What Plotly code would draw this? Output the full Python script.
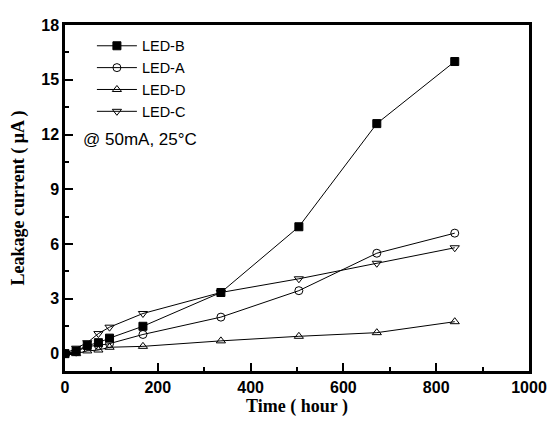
import plotly.graph_objects as go

hours = [0, 24, 48, 72, 96, 168, 336, 504, 672, 840]
led_b = [0.0, 0.15, 0.45, 0.6, 0.85, 1.5, 3.35, 6.95, 12.6, 16.0]
led_a = [0.0, 0.1, 0.4, 0.45, 0.55, 1.05, 2.0, 3.45, 5.5, 6.6]
led_d = [0.0, 0.0, 0.15, 0.2, 0.35, 0.4, 0.7, 0.95, 1.15, 1.75]
led_c = [0.0, 0.3, 0.6, 1.1, 1.45, 2.2, 3.35, 4.1, 4.95, 5.8]

series = [
    ("LED-B", led_b, "square", "black"),
    ("LED-A", led_a, "circle-open", "black"),
    ("LED-D", led_d, "triangle-up-open", "black"),
    ("LED-C", led_c, "triangle-down-open", "black"),
]

fig = go.Figure()
for name, vals, sym, col in series:
    fig.add_trace(go.Scatter(
        x=hours, y=vals, name=name, mode="lines+markers",
        line=dict(color="black", width=1),
        marker=dict(symbol=sym, size=8, color=col, line=dict(color="black", width=1)),
    ))

fig.add_annotation(x=0.035, y=0.67, xref="paper", yref="paper", xanchor="left", yanchor="middle",
                   text="@ 50mA, 25°C", showarrow=False,
                   font=dict(family="Liberation Sans, Arial", size=17, color="black"))

fig.update_layout(
    width=559, height=421,
    margin=dict(l=65, r=25, t=25, b=49),
    plot_bgcolor="white", paper_bgcolor="white",
    showlegend=True,
    legend=dict(x=0.058, y=0.986, xanchor="left", yanchor="top", bgcolor="rgba(0,0,0,0)",
                font=dict(family="Liberation Sans, Arial", size=14.5, color="black"),
                tracegroupgap=0, itemwidth=40),
    xaxis=dict(range=[0, 1000], tickvals=[0, 200, 400, 600, 800, 1000],
               ticks="inside", ticklen=8, tickwidth=2, tickcolor="black",
               minor=dict(dtick=100, tick0=0, ticks="inside", ticklen=4, tickwidth=2, tickcolor="black"),
               showline=True, linewidth=2.5, linecolor="black", mirror=True,
               showgrid=False, zeroline=False,
               tickfont=dict(family="Liberation Sans, Arial", size=16, color="black", weight="bold"),
               title=dict(text="Time ( hour )", standoff=0,
                          font=dict(family="Liberation Serif, Times New Roman", size=18, color="black", weight="bold"))),
    yaxis=dict(range=[-0.95, 18.0], tickvals=[0, 3, 6, 9, 12, 15, 18],
               ticks="inside", ticklen=8, tickwidth=2, tickcolor="black",
               minor=dict(dtick=1.5, tick0=0, ticks="inside", ticklen=4, tickwidth=2, tickcolor="black"),
               showline=True, linewidth=2.5, linecolor="black", mirror=True,
               showgrid=False, zeroline=False,
               tickfont=dict(family="Liberation Sans, Arial", size=16, color="black", weight="bold"),
               title=dict(text="Leakage current ( μA )", standoff=12,
                          font=dict(family="Liberation Serif, Times New Roman", size=18, color="black", weight="bold"))),
)

fig.write_html("out.html")
